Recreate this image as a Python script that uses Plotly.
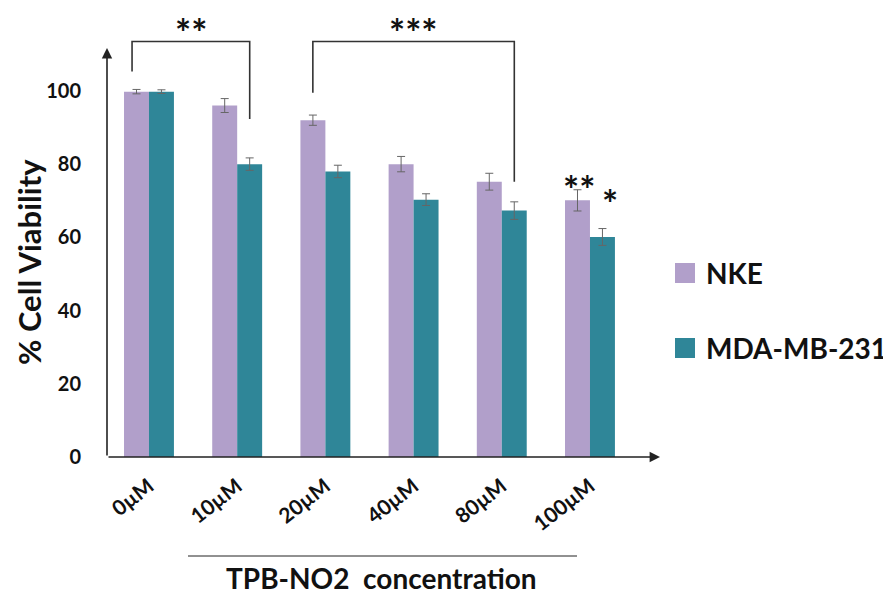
import plotly.graph_objects as go

categories = ["0µM", "10µM", "20µM", "40µM", "80µM", "100µM"]
nke_values = [99.8, 96.0, 92.0, 80.0, 75.2, 70.1]
nke_errors = [0.6, 1.9, 1.4, 2.1, 2.3, 2.9]
mda_values = [99.8, 80.0, 78.0, 70.3, 67.3, 60.1]
mda_errors = [0.5, 1.7, 1.7, 1.6, 2.4, 2.3]
y_ticks = [0, 20, 40, 60, 80, 100]
series_names = ["NKE", "MDA-MB-231"]
x_title = "TPB-NO2  concentration"
y_title = "% Cell Viability"

NKE_COLOR = "#B19FCA"
MDA_COLOR = "#2F8698"
FONT = "Lato"

# layout geometry (page offset of ~8px compensated)
L, T = 99, 2
PW, PH = 553, 447
R = 891 - L - PW
B = 597 - T - PH

def px_x(p):  # reference pixel -> paper x
    return (p - 107) / PW

def px_y(p):  # reference pixel -> paper y
    return (457 - p) / PH

xs = list(range(len(categories)))
fig = go.Figure()
fig.add_bar(x=xs, y=nke_values, name=series_names[0], marker_color=NKE_COLOR,
            marker_line_width=0,
            error_y=dict(type="data", array=nke_errors, color="#666666", thickness=1, width=4),
            showlegend=False)
fig.add_bar(x=xs, y=mda_values, name=series_names[1], marker_color=MDA_COLOR,
            marker_line_width=0,
            error_y=dict(type="data", array=mda_errors, color="#666666", thickness=1, width=4),
            showlegend=False)

X0, X1 = -0.476, 5.794
YMAX = 122.1
off = 0.142

# axes with arrows
fig.add_annotation(x=X0, y=111.7, ax=X0, ay=0, xref="x", yref="y", axref="x", ayref="y",
                   showarrow=True, arrowhead=2, arrowsize=1.3, arrowwidth=1.6, arrowcolor="#222", text="")
fig.add_annotation(x=X1, y=0, ax=X0, ay=0, xref="x", yref="y", axref="x", ayref="y",
                   showarrow=True, arrowhead=2, arrowsize=1.3, arrowwidth=1.6, arrowcolor="#222", text="")

# significance brackets
def bracket(xa, xb, ya, yb, top):
    fig.add_shape(type="path", xref="x", yref="y",
                  path=f"M {xa} {ya} L {xa} {top} L {xb} {top} L {xb} {yb}",
                  line=dict(color="#333", width=1.6))

bracket(0 - off - 0.05, 1 + off, 105.3, 92.3, 113.5)
bracket(2 - off, 4 + off, 99.5, 75.2, 113.5)

def stars(x, y, t):
    fig.add_annotation(x=x, y=y, xref="x", yref="y", text=f"<b>{t}</b>", showarrow=False,
                       xanchor="center", yanchor="middle",
                       font=dict(family=FONT, size=38, color="#111"))

stars(0.48, 116.2, "**")
stars(2.99, 116.2, "***")
stars(4.87, 73.3, "**")
stars(5.23, 69.5, "*")

# x-axis title line and title
fig.add_shape(type="line", xref="paper", yref="paper", x0=px_x(188), x1=px_x(577),
              y0=px_y(556), y1=px_y(556), line=dict(color="#222", width=1))
fig.add_annotation(xref="paper", yref="paper", x=px_x(381), y=px_y(578),
                   xanchor="center", yanchor="middle",
                   text=f"<b>{x_title}</b>", showarrow=False,
                   font=dict(family=FONT, size=28, color="#111"))
fig.add_annotation(xref="paper", yref="paper", x=px_x(29), y=px_y(262),
                   xanchor="center", yanchor="middle",
                   text=f"<b>{y_title}</b>", showarrow=False, textangle=-90,
                   font=dict(family=FONT, size=31, color="#111"))

# legend (manual)
for name, color, yc in [(series_names[0], NKE_COLOR, 273), (series_names[1], MDA_COLOR, 348)]:
    fig.add_shape(type="rect", xref="paper", yref="paper",
                  x0=px_x(675), x1=px_x(695),
                  y0=px_y(yc + 10), y1=px_y(yc - 10),
                  fillcolor=color, line_width=0)
    fig.add_annotation(xref="paper", yref="paper", x=px_x(704), y=px_y(yc),
                       xanchor="left", yanchor="middle", text=f"<b>{name}</b>", showarrow=False,
                       font=dict(family=FONT, size=28, color="#111"))

fig.update_layout(
    width=891, height=597,
    margin=dict(l=L, r=R, t=T, b=B),
    paper_bgcolor="white", plot_bgcolor="white",
    barmode="group", bargap=0.434, bargroupgap=0,
    font=dict(family=FONT, color="#111"),
)
fig.update_xaxes(range=[X0, X1], tickmode="array", tickvals=xs,
                 ticktext=[f"<b>{c}</b>" for c in categories], tickangle=-38,
                 tickfont=dict(family=FONT, size=21, color="#111"),
                 showgrid=False, zeroline=False, showline=False, ticks="", ticklabelstandoff=12)
fig.update_yaxes(range=[0, YMAX], tickmode="array", tickvals=y_ticks,
                 ticktext=[f"<b>{v}</b>" for v in y_ticks],
                 tickfont=dict(family=FONT, size=20, color="#111"),
                 showgrid=False, zeroline=False, showline=False, ticks="", ticklabelstandoff=25)

fig.write_html("out.html")
